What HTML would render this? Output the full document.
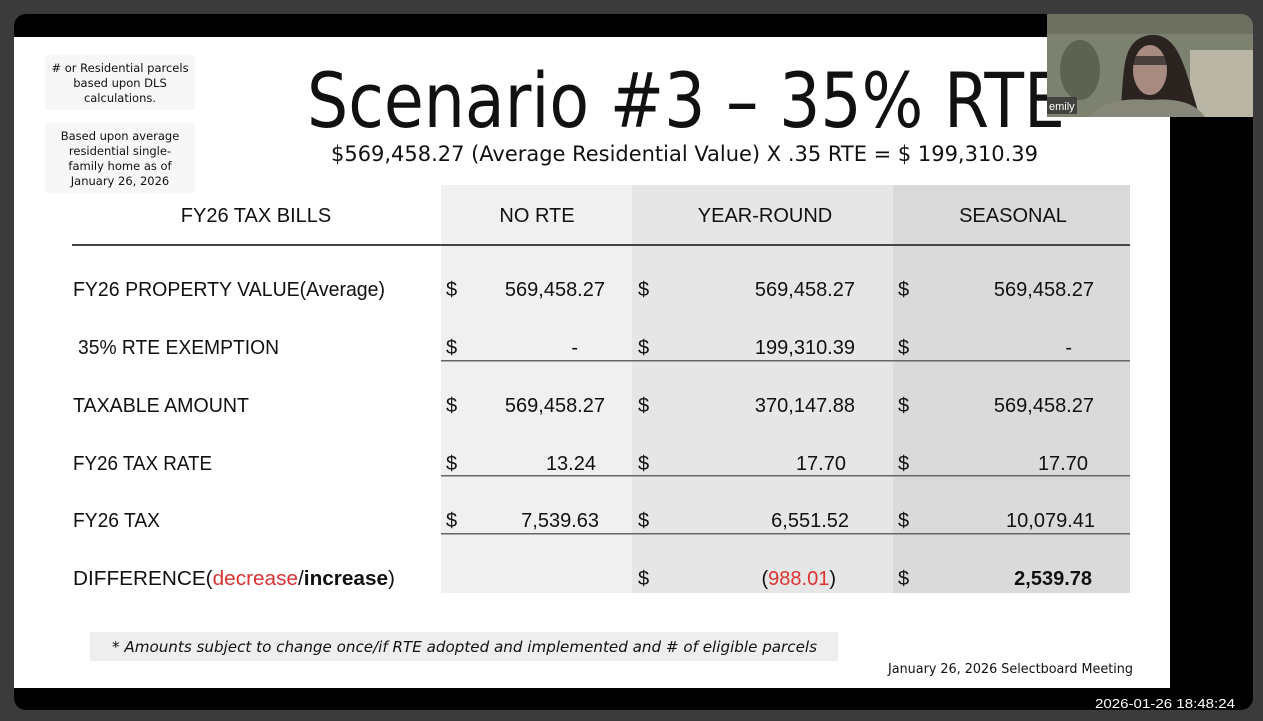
<!DOCTYPE html>
<html><head><meta charset="utf-8"><style>
html,body{margin:0;padding:0;background:#3b3b3b;}
svg{display:block}
text{font-family:"Liberation Sans",Arial,sans-serif;fill:#111}
.h{font-family:"DejaVu Sans","Liberation Sans",sans-serif}
</style></head><body>
<svg width="1263" height="721" viewBox="0 0 1263 721" xmlns="http://www.w3.org/2000/svg">
<rect width="1263" height="721" fill="#3b3b3b"/>
<rect x="14" y="14" width="1239" height="696" rx="12" fill="#000"/>
<rect x="14" y="37" width="1156" height="651" fill="#fff"/>
<!-- side notes -->
<rect x="45" y="55" width="150" height="55" fill="#f7f7f7"/>
<rect x="45" y="123" width="150" height="70" fill="#f7f7f7"/>
<g class="h" font-size="11.5" text-anchor="middle">
<text class="h" x="120" y="72"># or Residential parcels</text>
<text class="h" x="120" y="87">based upon DLS</text>
<text class="h" x="120" y="102">calculations.</text>
<text class="h" x="120" y="140">Based upon average</text>
<text class="h" x="120" y="155">residential single-</text>
<text class="h" x="120" y="170">family home as of</text>
<text class="h" x="120" y="185">January 26, 2026</text>
</g>
<!-- title -->
<text class="h" x="307" y="127" font-size="76" textLength="758" lengthAdjust="spacingAndGlyphs">Scenario #3 – 35% RTE</text>
<text class="h" x="331" y="161" font-size="21" textLength="707" lengthAdjust="spacingAndGlyphs">$569,458.27 (Average Residential Value) X .35 RTE = $ 199,310.39</text>
<!-- column shading -->
<rect x="441" y="185" width="191" height="408" fill="#f0f0f0"/>
<rect x="632" y="185" width="261" height="408" fill="#e6e6e6"/>
<rect x="893" y="185" width="237" height="408" fill="#dadada"/>
<!-- lines -->
<rect x="72" y="244" width="1058" height="2" fill="#444"/>
<rect x="441" y="360" width="689" height="1.5" fill="#666"/>
<rect x="441" y="475" width="689" height="1.5" fill="#666"/>
<rect x="441" y="533" width="689" height="1.5" fill="#666"/>
<g font-size="20">
<text x="256" y="222" text-anchor="middle">FY26 TAX BILLS</text>
<text x="537" y="222" text-anchor="middle">NO RTE</text>
<text x="765" y="222" text-anchor="middle">YEAR-ROUND</text>
<text x="1013" y="222" text-anchor="middle">SEASONAL</text>

<text x="73" y="296" textLength="312" lengthAdjust="spacingAndGlyphs">FY26 PROPERTY VALUE(Average)</text>
<text x="78" y="354" textLength="201" lengthAdjust="spacingAndGlyphs">35% RTE EXEMPTION</text>
<text x="73" y="412" textLength="176" lengthAdjust="spacingAndGlyphs">TAXABLE AMOUNT</text>
<text x="73" y="470" textLength="139" lengthAdjust="spacingAndGlyphs">FY26 TAX RATE</text>
<text x="73" y="527" textLength="87" lengthAdjust="spacingAndGlyphs">FY26 TAX</text>
<text x="73" y="585" textLength="322" lengthAdjust="spacingAndGlyphs">DIFFERENCE(<tspan fill="#d33">decrease</tspan>/<tspan font-weight="bold">increase</tspan>)</text>

<g>
<text x="446" y="296">$</text><text x="605" y="296" text-anchor="end">569,458.27</text>
<text x="638" y="296">$</text><text x="855" y="296" text-anchor="end">569,458.27</text>
<text x="898" y="296">$</text><text x="1094" y="296" text-anchor="end">569,458.27</text>

<text x="446" y="354">$</text><text x="578" y="354" text-anchor="end">-</text>
<text x="638" y="354">$</text><text x="855" y="354" text-anchor="end">199,310.39</text>
<text x="898" y="354">$</text><text x="1072" y="354" text-anchor="end">-</text>

<text x="446" y="412">$</text><text x="605" y="412" text-anchor="end">569,458.27</text>
<text x="638" y="412">$</text><text x="855" y="412" text-anchor="end">370,147.88</text>
<text x="898" y="412">$</text><text x="1094" y="412" text-anchor="end">569,458.27</text>

<text x="446" y="470">$</text><text x="596" y="470" text-anchor="end">13.24</text>
<text x="638" y="470">$</text><text x="846" y="470" text-anchor="end">17.70</text>
<text x="898" y="470">$</text><text x="1088" y="470" text-anchor="end">17.70</text>

<text x="446" y="527">$</text><text x="599" y="527" text-anchor="end">7,539.63</text>
<text x="638" y="527">$</text><text x="849" y="527" text-anchor="end">6,551.52</text>
<text x="898" y="527">$</text><text x="1095" y="527" text-anchor="end">10,079.41</text>

<text x="638" y="585">$</text><text x="836" y="585" text-anchor="end">(<tspan fill="#d33">988.01</tspan>)</text>
<text x="898" y="585">$</text><text x="1092" y="585" text-anchor="end" font-weight="bold">2,539.78</text>
</g>
</g>
<!-- footnote -->
<rect x="90" y="632" width="748" height="29" fill="#eeeeee"/>
<text class="h" x="112" y="652" font-size="15.5" font-style="italic" textLength="705" lengthAdjust="spacingAndGlyphs">* Amounts subject to change once/if RTE adopted and implemented and # of eligible parcels</text>
<text class="h" x="888" y="673" font-size="13" fill="#333" textLength="245" lengthAdjust="spacingAndGlyphs">January 26, 2026 Selectboard Meeting</text>
<text x="1235" y="708" font-size="13" style="fill:#fff" text-anchor="end" textLength="140" lengthAdjust="spacingAndGlyphs">2026-01-26 18:48:24</text>
<!-- webcam -->
<defs><clipPath id="cam"><path d="M1047 14 H1241 A12 12 0 0 1 1253 26 V117 H1047 Z"/></clipPath></defs>
<g clip-path="url(#cam)">
<rect x="1047" y="14" width="206" height="103" fill="#7d8270"/>
<rect x="1047" y="14" width="206" height="20" fill="#6d7060"/>
<rect x="1190" y="50" width="63" height="67" fill="#b9b6a6"/>
<ellipse cx="1080" cy="70" rx="20" ry="30" fill="#5e6252"/>
<path d="M1120 117 C1125 70 1120 40 1150 35 C1180 33 1185 70 1200 117 Z" fill="#2a2320"/>
<ellipse cx="1150" cy="70" rx="17" ry="25" fill="#a88b80"/>
<rect x="1133" y="56" width="34" height="9" fill="#222" opacity="0.7"/>
<path d="M1090 117 C1100 100 1130 98 1150 100 C1175 98 1195 102 1205 117 Z" fill="#868778"/>
</g>
<rect x="1047" y="97" width="30" height="17" fill="#333" opacity="0.8"/>
<text x="1049" y="110" font-size="11" style="fill:#fff">emily</text>
</svg>
</body></html>
